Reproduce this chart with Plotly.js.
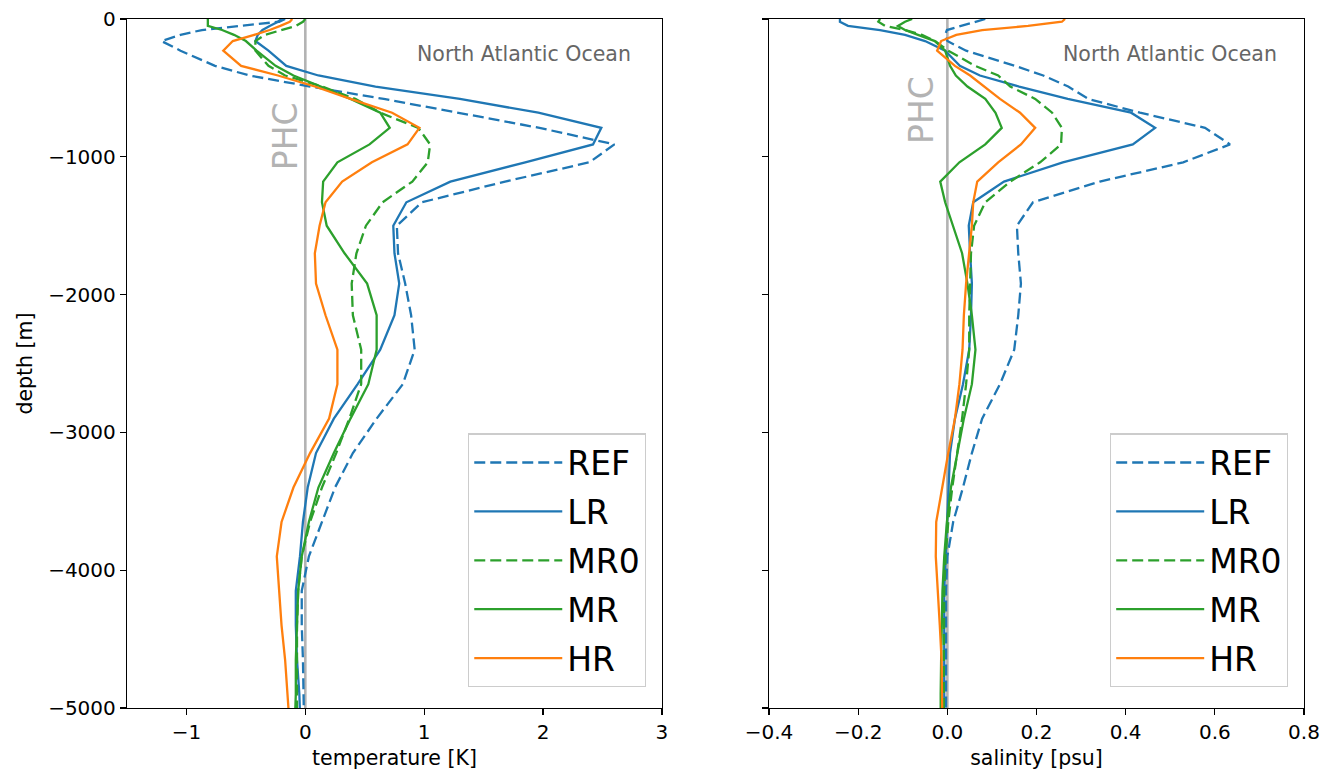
<!DOCTYPE html>
<html>
<head>
<meta charset="utf-8">
<script src="https://cdn.plot.ly/plotly-3.0.1.min.js"></script>
<style>html,body{margin:0;padding:0;background:#fff;}#chart{width:1324px;height:770px;}</style>
</head>
<body>
<div id="chart"></div>
<script>
// Depth levels [m]
const depth = [0,20,50,80,115,160,230,340,410,490,580,680,790,910,1040,1180,1330,1500,1700,1920,2150,2400,2650,2900,3150,3400,3650,3900,4150,4400,4650,4900,5150];

// Temperature anomaly [K]
const tREF = [-0.17,-0.22,-0.55,-0.87,-1.05,-1.21,-1.05,-0.76,-0.47,0.04,0.66,1.30,1.97,2.60,2.39,1.68,0.98,0.77,0.78,0.84,0.89,0.92,0.82,0.60,0.40,0.25,0.14,0.03,-0.03,-0.03,-0.02,-0.015,-0.01];
const tLR  = [-0.20,-0.23,-0.30,-0.36,-0.40,-0.42,-0.31,-0.16,0.11,0.59,1.30,1.96,2.49,2.42,1.85,1.22,0.85,0.74,0.75,0.79,0.75,0.63,0.44,0.24,0.09,0.02,-0.02,-0.045,-0.08,-0.08,-0.07,-0.05,-0.04];
const tMR0 = [0.00,-0.02,-0.08,-0.20,-0.34,-0.42,-0.42,-0.31,-0.17,0.14,0.42,0.63,0.95,1.05,1.03,0.90,0.65,0.51,0.43,0.39,0.40,0.47,0.47,0.37,0.26,0.14,0.04,-0.03,-0.06,-0.07,-0.07,-0.07,-0.07];
const tMR  = [-0.82,-0.82,-0.82,-0.70,-0.60,-0.50,-0.41,-0.25,-0.10,0.13,0.38,0.63,0.71,0.54,0.27,0.15,0.14,0.18,0.33,0.52,0.60,0.60,0.53,0.38,0.24,0.11,0.03,-0.03,-0.06,-0.07,-0.08,-0.08,-0.09];
const tHR  = [-0.11,-0.13,-0.21,-0.30,-0.43,-0.61,-0.69,-0.54,-0.23,0.08,0.38,0.73,0.96,0.86,0.56,0.31,0.17,0.12,0.08,0.09,0.17,0.27,0.27,0.20,0.04,-0.10,-0.20,-0.24,-0.22,-0.20,-0.17,-0.15,-0.13];

// Salinity anomaly [psu]
const sREF = [0.085,0.062,0.033,-0.001,-0.005,0.000,0.042,0.152,0.215,0.271,0.316,0.432,0.578,0.634,0.529,0.342,0.192,0.156,0.159,0.165,0.159,0.150,0.118,0.078,0.055,0.035,0.013,0.000,-0.003,-0.003,-0.003,-0.003,-0.003];
const sLR  = [-0.241,-0.241,-0.223,-0.151,-0.095,-0.050,-0.005,0.028,0.073,0.161,0.270,0.412,0.466,0.416,0.259,0.127,0.058,0.048,0.051,0.055,0.053,0.049,0.035,0.017,0.006,0.003,0.000,-0.003,-0.007,-0.007,-0.007,-0.007,-0.007];
const sMR0 = [-0.151,-0.155,-0.140,-0.095,-0.057,-0.028,0.002,0.062,0.114,0.141,0.197,0.235,0.257,0.255,0.208,0.141,0.085,0.060,0.053,0.051,0.049,0.049,0.042,0.033,0.022,0.011,0.002,-0.004,-0.007,-0.008,-0.008,-0.008,-0.008];
const sMR  = [-0.079,-0.095,-0.111,-0.095,-0.066,-0.028,-0.005,0.006,0.019,0.045,0.085,0.108,0.122,0.085,0.027,-0.016,-0.005,0.013,0.033,0.045,0.055,0.063,0.055,0.037,0.022,0.008,-0.001,-0.007,-0.011,-0.013,-0.014,-0.015,-0.015];
const sHR  = [0.264,0.257,0.181,0.078,0.020,-0.014,-0.023,0.017,0.051,0.082,0.118,0.163,0.197,0.165,0.114,0.067,0.058,0.055,0.049,0.042,0.037,0.034,0.027,0.017,0.002,-0.012,-0.025,-0.026,-0.021,-0.017,-0.013,-0.012,-0.011];

const names = ["REF","LR","MR0","MR","HR"];
const colors = ["#1f77b4","#1f77b4","#2ca02c","#2ca02c","#ff7f0e"];
const dashes = ["11px,5px","solid","11px,5px","solid","solid"];
const tempSeries = [tREF,tLR,tMR0,tMR,tHR];
const salSeries = [sREF,sLR,sMR0,sMR,sHR];

const yTicks = [0,-1000,-2000,-3000,-4000,-5000];
const yTickText = ["0","\u22121000","\u22122000","\u22123000","\u22124000","\u22125000"];
const tTicks = [-1,0,1,2,3];
const tTickText = ["\u22121","0","1","2","3"];
const sTicks = [-0.4,-0.2,0,0.2,0.4,0.6,0.8];
const sTickText = ["\u22120.4","\u22120.2","0.0","0.2","0.4","0.6","0.8"];
const phcX = [0,0];
const phcY = [0,-5000];

const negDepth = depth.map(d => -d);
const traces = [];
traces.push({x: phcX, y: phcY, xaxis:'x', yaxis:'y', mode:'lines', line:{color:'#b3b3b3', width:2.6}, showlegend:false, hoverinfo:'skip'});
traces.push({x: phcX, y: phcY, xaxis:'x2', yaxis:'y2', mode:'lines', line:{color:'#b3b3b3', width:2.6}, showlegend:false, hoverinfo:'skip'});
names.forEach((n,i) => {
  traces.push({x: tempSeries[i], y: negDepth, xaxis:'x', yaxis:'y', mode:'lines', name:n,
    line:{color:colors[i], width:2.3, dash:dashes[i]}, legend:'legend', legendgroup:'a'+i});
});
names.forEach((n,i) => {
  traces.push({x: salSeries[i], y: negDepth, xaxis:'x2', yaxis:'y2', mode:'lines', name:n,
    line:{color:colors[i], width:2.3, dash:dashes[i]}, legend:'legend2', legendgroup:'b'+i});
});

const fontFam = "DejaVu Sans, sans-serif";
const axisCommon = {showline:true, linecolor:'#000', linewidth:1.2, mirror:true, ticks:'outside', ticklen:6, tickwidth:1.2, tickcolor:'#000', showgrid:false, zeroline:false, tickfont:{family:fontFam, size:20, color:'#000'}};
const legendCommon = {bgcolor:'rgba(255,255,255,0.85)', bordercolor:'#cccccc', borderwidth:1.2, font:{family:fontFam, size:33, color:'#000'}, itemwidth:88, tracegroupgap:3, yanchor:'bottom', xanchor:'right', y:0.030};

const layout = {
  width:1324, height:770,
  margin:{l:127, r:20, t:19, b:62},
  paper_bgcolor:'#fff', plot_bgcolor:'#fff',
  font:{family:fontFam, size:20, color:'#000'},
  xaxis: Object.assign({}, axisCommon, {domain:[0,0.4545], range:[-1.5,3], tickvals:tTicks, ticktext:tTickText, anchor:'y', title:{text:'temperature [K]', font:{family:fontFam, size:20.5}, standoff:8}}),
  yaxis: Object.assign({}, axisCommon, {domain:[0,1], range:[-5000,0], tickvals:yTicks, ticktext:yTickText, anchor:'x', title:{text:'depth [m]', font:{family:fontFam, size:20.5}, standoff:10}}),
  xaxis2: Object.assign({}, axisCommon, {domain:[0.5455,1], range:[-0.4,0.8], tickvals:sTicks, ticktext:sTickText, anchor:'y2', title:{text:'salinity [psu]', font:{family:fontFam, size:20.5}, standoff:8}}),
  yaxis2: Object.assign({}, axisCommon, {domain:[0,1], range:[-5000,0], tickvals:yTicks, showticklabels:false, anchor:'x2'}),
  legend: Object.assign({}, legendCommon, {x:0.441}),
  legend2: Object.assign({}, legendCommon, {x:0.9864}),
  annotations:[
    {text:'North Atlantic Ocean', xref:'paper', yref:'paper', x:0.4299, y:0.949, xanchor:'right', yanchor:'middle', showarrow:false, font:{family:fontFam, size:20.5, color:'#666666'}},
    {text:'North Atlantic Ocean', xref:'paper', yref:'paper', x:0.9788, y:0.949, xanchor:'right', yanchor:'middle', showarrow:false, font:{family:fontFam, size:20.5, color:'#666666'}},
    {text:'PHC', xref:'x', yref:'y', x:-0.17, y:-850, textangle:-90, showarrow:false, font:{family:fontFam, size:33, color:'#b3b3b3'}},
    {text:'PHC', xref:'x2', yref:'y2', x:-0.057, y:-660, textangle:-90, showarrow:false, font:{family:fontFam, size:33, color:'#b3b3b3'}}
  ],
  showlegend:true
};

Plotly.newPlot('chart', traces, layout, {staticPlot:true, displayModeBar:false});
</script>
</body>
</html>
